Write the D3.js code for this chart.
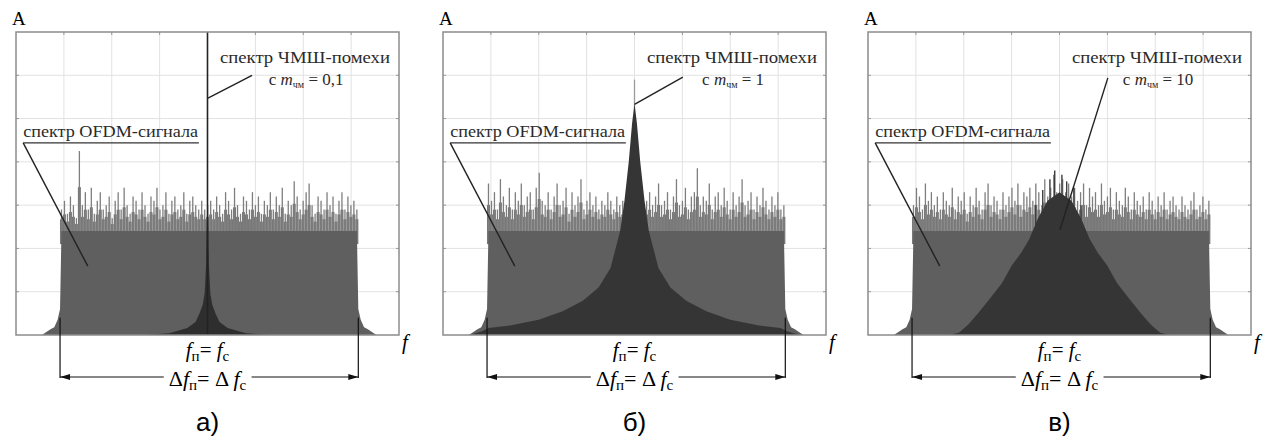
<!DOCTYPE html>
<html>
<head>
<meta charset="utf-8">
<script src="https://cdn.jsdelivr.net/npm/d3@7"></script>
<style>
    body { margin: 0; background: #fff; }
    svg { display: block; }
    text { font-family: "Liberation Serif", "DejaVu Serif", serif; }
    text.caption { font-family: "Liberation Sans", Arial, sans-serif; }
</style>
</head>
<body>
<svg id="chart" width="1263" height="438"></svg>
<script>
// ---- data (x in grid divisions from centre, y in grid divisions) ----
const panelNames = ["а)", "б)", "в)"];
const mValues = ["0,1", "1", "10"];
const gridX = [-3, -2, -1, 0, 1, 2, 3];
const gridY = [1, 2, 3, 4, 5, 6];
const bandEdges = [-3.05, 3.12];
const dimEdges = [-3.08, 3.15];
const ofdmFloor = 2.4;

const ofdmSkirtLeft = [[-3.46, 0], [-3.38, 0.06], [-3.28, 0.13], [-3.2, 0.18], [-3.13, 0.35], [-3.08, 0.6]];
const ofdmSkirtRight = [[3.15, 0.6], [3.2, 0.35], [3.27, 0.18], [3.35, 0.13], [3.45, 0.06], [3.53, 0]];

const ofdmSpikesA = [
    2.9, 3.1, 2.8, 3.2, 3.0, 2.7, 4.25, 3.0, 3.3, 2.9,
    3.4, 2.8, 3.1, 3.3, 2.9, 3.0, 3.2, 2.7, 3.1, 3.3,
    2.9, 3.4, 3.0, 2.8, 3.2, 3.1, 2.9, 3.3, 3.0, 2.8,
    3.2, 3.1, 3.4, 2.9, 3.0, 3.3, 2.8, 3.1, 3.2, 2.9,
    3.0, 3.3, 2.8, 3.1, 3.2, 3.0, 2.9, 3.1, 2.9, 3.0,
    3.1, 2.9, 3.2, 3.0, 2.8, 3.3, 3.1, 2.9, 3.4, 3.0,
    2.8, 3.2, 3.1, 2.9, 3.3, 3.0, 3.2, 2.8, 3.1, 3.0,
    3.3, 2.9, 3.2, 3.0, 3.4, 2.8, 3.1, 3.0, 3.55, 3.2,
    2.9, 3.1, 3.3, 3.5, 3.0, 2.8, 3.2, 3.1, 2.9, 3.3,
    3.0, 3.2, 2.8, 3.1, 3.3, 2.9, 3.2, 3.0, 3.1, 2.9
];
const ofdmSpikesB = [
    3.5, 3.1, 3.3, 2.9, 3.6, 3.2, 3.0, 3.4, 2.9, 3.3,
    3.1, 3.5, 3.0, 3.2, 3.3, 2.9, 3.4, 3.75, 3.1, 3.0,
    3.3, 2.9, 3.2, 3.5, 3.0, 3.1, 3.4, 2.8, 3.3, 3.0,
    3.2, 3.6, 2.9, 3.1, 3.3, 3.0, 3.2, 2.9, 3.1, 3.0,
    3.3, 3.1, 2.9, 3.2, 3.0, 3.1, 2.9, 3.0, 3.1, 2.9,
    3.0, 3.2, 2.9, 3.1, 3.3, 3.0, 3.2, 3.5, 3.0, 3.1,
    3.3, 2.9, 3.2, 3.6, 3.0, 3.1, 3.4, 2.9, 3.2, 3.3,
    3.85, 3.0, 3.2, 3.1, 3.5, 2.9, 3.2, 3.3, 3.0, 3.4,
    3.1, 2.9, 3.3, 3.0, 3.2, 3.6, 3.0, 3.1, 3.3, 2.9,
    3.2, 3.0, 3.4, 3.1, 2.9, 3.2, 3.0, 3.3, 2.9, 3.0
];
const ofdmSpikesC = [
    3.0, 3.4, 3.2, 2.9, 3.5, 3.1, 3.3, 3.0, 3.2, 2.9,
    3.3, 3.1, 3.0, 3.4, 2.9, 3.2, 3.1, 3.3, 2.8, 3.2,
    3.0, 3.4, 3.1, 2.9, 3.3, 3.5, 3.0, 3.2, 3.1, 2.9,
    3.3, 3.0, 3.2, 3.4, 3.1, 3.5, 3.0, 3.3, 3.2, 3.4,
    3.1, 3.5, 3.3, 3.0, 3.6, 3.2, 3.4, 3.7, 3.3, 3.5,
    3.6, 3.3, 3.5, 3.2, 3.4, 3.1, 3.3, 3.5, 3.0, 3.4,
    3.2, 3.3, 3.0, 3.5, 3.1, 3.2, 3.4, 2.9, 3.3, 3.1,
    3.0, 3.4, 3.2, 2.9, 3.3, 3.1, 3.0, 3.2, 2.9, 3.3,
    3.1, 2.9, 3.2, 3.0, 3.3, 2.9, 3.1, 3.2, 3.0, 2.9,
    3.2, 3.0, 2.9, 3.1, 3.3, 2.9, 3.0, 3.2, 2.9, 3.1
];

// interference (ЧМШ) spectra
const fmA = [
    [-1.3, 0], [-0.8, 0.04], [-0.42, 0.16], [-0.25, 0.3], [-0.17, 0.49], [-0.1, 0.7],
    [-0.06, 0.95], [-0.03, 1.6], [-0.015, 2.6], [0, 3.2],
    [0.015, 2.6], [0.03, 1.6], [0.06, 0.95], [0.1, 0.7], [0.17, 0.49], [0.25, 0.3],
    [0.42, 0.16], [0.8, 0.04], [1.3, 0]
];
const fmLineA = 7;
const fmB = [
    [-3.45, 0], [-3.2, 0.08], [-3.05, 0.16], [-2.6, 0.22], [-2.0, 0.35], [-1.5, 0.55],
    [-1.08, 0.79], [-0.75, 1.1], [-0.5, 1.55], [-0.3, 2.4], [-0.21, 3.1], [-0.12, 4.0],
    [-0.05, 4.9], [0, 5.35],
    [0.05, 4.9], [0.12, 4.0], [0.21, 3.1], [0.3, 2.4], [0.5, 1.55], [0.75, 1.1],
    [1.08, 0.79], [1.5, 0.55], [2.0, 0.35], [2.6, 0.22], [3.05, 0.16], [3.2, 0.08], [3.45, 0]
];
const fmSpikeB = 5.9;
const fmC = [
    [-2.3, 0], [-2.1, 0.05], [-1.9, 0.25], [-1.7, 0.5], [-1.46, 0.83], [-1.2, 1.2],
    [-1.0, 1.6], [-0.8, 1.9], [-0.63, 2.22], [-0.45, 2.7], [-0.25, 3.1], [0, 3.3],
    [0.25, 3.1], [0.45, 2.7], [0.63, 2.22], [0.8, 1.9], [1.0, 1.6], [1.2, 1.2],
    [1.46, 0.83], [1.7, 0.5], [1.9, 0.25], [2.1, 0.05], [2.3, 0]
];
const fmSpikesC = [[-0.5, 3.0], [-0.35, 3.35], [-0.2, 3.6], [-0.1, 3.8], [0.05, 3.7], [0.15, 3.55], [0.3, 3.4], [0.45, 3.0]];

// leader lines: [from point on the spectrum, to the label]
const fmLeaders = [[[0.01, 5.47], [0.93, 6.0]], [[0.0, 5.33], [1.01, 5.96]], [[0.01, 2.43], [1.01, 5.94]]];
const ofdmLeader = [[-3.85, 4.44], [-2.5, 1.59]];

const panels = [
    { name: panelNames[0], m: mValues[0], spikes: ofdmSpikesA, fm: fmA, leader: fmLeaders[0] },
    { name: panelNames[1], m: mValues[1], spikes: ofdmSpikesB, fm: fmB, leader: fmLeaders[1] },
    { name: panelNames[2], m: mValues[2], spikes: ofdmSpikesC, fm: fmC, leader: fmLeaders[2] }
];

const W = 383, H = 303;
const panelLeft = [16, 443, 868], panelTop = 32;

const svg = d3.select("#chart");
const x = d3.scaleLinear().domain([-4, 4]).range([0, W]);
const y = d3.scaleLinear().domain([0, 7]).range([H, 0]);

// the source picture is a soft scan, blur the spectra a little
svg.append("defs").append("filter")
    .attr("id", "soft")
    .append("feGaussianBlur")
    .attr("stdDeviation", 0.7);

const area = d3.area()
    .x(d => x(d[0]))
    .y0(y(0))
    .y1(d => y(d[1]));

panels.forEach((p, i) => {
    const g = svg.append("g")
        .attr("transform", `translate(${panelLeft[i]},${panelTop})`);

    // grid
    g.selectAll("line.gx").data(gridX).join("line")
        .attr("class", "gx")
        .attr("x1", d => x(d)).attr("x2", d => x(d))
        .attr("y1", 0).attr("y2", H)
        .style("stroke", "#e2e2e2");
    g.selectAll("line.gy").data(gridY).join("line")
        .attr("class", "gy")
        .attr("x1", 0).attr("x2", W)
        .attr("y1", d => y(d)).attr("y2", d => y(d))
        .style("stroke", "#e2e2e2");

    // small ticks on the frame
    g.selectAll("line.tt").data(gridX).join("line")
        .attr("class", "tt")
        .attr("x1", d => x(d)).attr("x2", d => x(d))
        .attr("y1", 0).attr("y2", 3)
        .style("stroke", "#999");
    g.selectAll("line.tr").data(gridY).join("line")
        .attr("class", "tr")
        .attr("x1", W - 3).attr("x2", W)
        .attr("y1", d => y(d)).attr("y2", d => y(d))
        .style("stroke", "#999");
    g.selectAll("line.tl").data(gridY).join("line")
        .attr("class", "tl")
        .attr("x1", 0).attr("x2", 3)
        .attr("y1", d => y(d)).attr("y2", d => y(d))
        .style("stroke", "#999");

    const spec = g.append("g").attr("filter", "url(#soft)");

    // OFDM spectrum: dense part as narrow bars, tall thin spikes on top
    const sx = d3.scaleLinear().domain([0, p.spikes.length - 1]).range(bandEdges);
    const step = x(sx(1)) - x(sx(0));
    const dense = d => ofdmFloor + (d - ofdmFloor) * 0.55;
    spec.selectAll("rect.dense").data(p.spikes).join("rect")
        .attr("class", "dense")
        .attr("x", (d, k) => x(sx(k)) - step / 2)
        .attr("width", step)
        .attr("y", d => y(dense(d)))
        .attr("height", d => y(ofdmFloor - 0.3) - y(dense(d)))
        .style("fill", "#777");
    spec.selectAll("line.spike").data(p.spikes).join("line")
        .attr("class", "spike")
        .attr("x1", (d, k) => x(sx(k))).attr("x2", (d, k) => x(sx(k)))
        .attr("y1", y(ofdmFloor)).attr("y2", d => y(d))
        .style("stroke", "#7e7e7e")
        .style("stroke-width", 1.3);

    const body = ofdmSkirtLeft
        .concat([[bandEdges[0], ofdmFloor], [bandEdges[1], ofdmFloor]])
        .concat(ofdmSkirtRight);
    spec.append("path")
        .datum(body)
        .attr("d", area)
        .style("fill", "#5e5e5e");

    // interference spectrum
    if (i === 1) {
        spec.append("line")
            .attr("x1", x(0)).attr("x2", x(0))
            .attr("y1", y(4)).attr("y2", y(fmSpikeB))
            .style("stroke", "#9a9a9a").style("stroke-width", 1.3);
    }
    if (i === 2) {
        spec.selectAll("line.fms").data(fmSpikesC).join("line")
            .attr("class", "fms")
            .attr("x1", d => x(d[0])).attr("x2", d => x(d[0]))
            .attr("y1", y(2.5)).attr("y2", d => y(d[1]))
            .style("stroke", "#3c3c3c").style("stroke-width", 1.4);
    }
    spec.append("path")
        .datum(p.fm)
        .attr("d", area)
        .style("fill", i === 0 ? "#2e2e2e" : "#363636");
    if (i === 0) {
        g.append("line")
            .attr("x1", x(0)).attr("x2", x(0))
            .attr("y1", y(0)).attr("y2", y(fmLineA))
            .style("stroke", "#222").style("stroke-width", 1.6);
    }

    // frame
    g.append("rect")
        .attr("width", W).attr("height", H)
        .style("fill", "none")
        .style("stroke", "#8c8c8c")
        .style("stroke-width", 1.5);

    // axis letters
    g.append("text")
        .attr("x", -4).attr("y", -7)
        .style("font-size", "19px")
        .text("A");
    g.append("text")
        .attr("x", W + 3).attr("y", 317)
        .style("font-size", "21px")
        .style("font-style", "italic")
        .text("f");

    // OFDM label + underline + leader
    g.append("text")
        .attr("x", x(ofdmLeader[0][0])).attr("y", y(4.57))
        .attr("textLength", 175).attr("lengthAdjust", "spacingAndGlyphs")
        .style("font-size", "16px").style("fill", "#2a2a2a")
        .text("спектр OFDM-сигнала");
    g.append("line")
        .attr("x1", x(ofdmLeader[0][0])).attr("x2", x(-0.18))
        .attr("y1", y(ofdmLeader[0][1])).attr("y2", y(ofdmLeader[0][1]))
        .style("stroke", "#333").style("stroke-width", 1.3);
    g.append("line")
        .attr("x1", x(ofdmLeader[0][0])).attr("y1", y(ofdmLeader[0][1]))
        .attr("x2", x(ofdmLeader[1][0])).attr("y2", y(ofdmLeader[1][1]))
        .style("stroke", "#222").style("stroke-width", 1.4);

    // interference label + leader
    g.append("text")
        .attr("x", x(0.26)).attr("y", y(6.28))
        .attr("textLength", 170).attr("lengthAdjust", "spacingAndGlyphs")
        .style("font-size", "16px").style("fill", "#2a2a2a")
        .text("спектр ЧМШ-помехи");
    const t2 = g.append("text")
        .attr("x", x(2.06)).attr("y", y(5.78))
        .attr("text-anchor", "middle")
        .style("font-size", "17px").style("fill", "#2a2a2a");
    t2.append("tspan").text("с ");
    t2.append("tspan").style("font-style", "italic").text("m");
    t2.append("tspan").attr("dy", 3).style("font-size", "10px").text("чм");
    t2.append("tspan").attr("dy", -3).text(" = " + p.m);
    g.append("line")
        .attr("x1", x(p.leader[0][0])).attr("y1", y(p.leader[0][1]))
        .attr("x2", x(p.leader[1][0])).attr("y2", y(p.leader[1][1]))
        .style("stroke", "#222").style("stroke-width", 1.4);

    // f_п = f_c
    const cx = x(0);
    const t3 = g.append("text")
        .attr("x", cx).attr("y", 325)
        .attr("text-anchor", "middle")
        .style("font-size", "21px");
    t3.append("tspan").style("font-style", "italic").text("f");
    t3.append("tspan").attr("dy", 4).style("font-size", "15px").text("п");
    t3.append("tspan").attr("dy", -4).text("= ");
    t3.append("tspan").style("font-style", "italic").text("f");
    t3.append("tspan").attr("dy", 4).style("font-size", "15px").text("c");

    // dimension Δf
    const xl = x(dimEdges[0]), xr = x(dimEdges[1]), ya = 345;
    g.selectAll("line.dim").data(dimEdges).join("line")
        .attr("class", "dim")
        .attr("x1", d => x(d)).attr("x2", d => x(d))
        .attr("y1", y(0.4)).attr("y2", ya + 1)
        .style("stroke", "#111").style("stroke-width", 1.2);
    g.append("line")
        .attr("x1", xl).attr("x2", xr).attr("y1", ya).attr("y2", ya)
        .style("stroke", "#111").style("stroke-width", 1.2);
    g.append("path")
        .attr("d", `M${xl},${ya}l10,-3v6z M${xr},${ya}l-10,-3v6z`)
        .style("fill", "#111");
    const t4 = g.append("text")
        .attr("x", cx).attr("y", 354)
        .attr("text-anchor", "middle")
        .style("font-size", "22px");
    t4.append("tspan").text("Δ");
    t4.append("tspan").style("font-style", "italic").text("f");
    t4.append("tspan").attr("dy", 4).style("font-size", "15px").text("п");
    t4.append("tspan").attr("dy", -4).text("= Δ ");
    t4.append("tspan").style("font-style", "italic").text("f");
    t4.append("tspan").attr("dy", 4).style("font-size", "15px").text("c");
    const bb = t4.node().getBBox();
    g.insert("rect", function () { return t4.node(); })
        .attr("x", bb.x - 5).attr("y", ya - 3)
        .attr("width", bb.width + 10).attr("height", 6)
        .style("fill", "#fff");

    // panel caption
    g.append("text")
        .attr("class", "caption")
        .attr("x", cx).attr("y", 399)
        .attr("text-anchor", "middle")
        .style("font-size", "26px")
        .text(p.name);
});
</script>
</body>
</html>
